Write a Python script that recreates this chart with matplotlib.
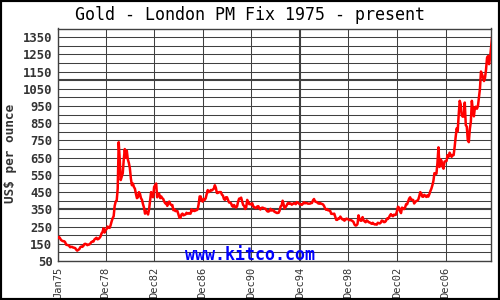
import matplotlib
matplotlib.use("Agg")
import matplotlib.pyplot as plt
from matplotlib.patches import Rectangle
import numpy as np

# Monthly gold price (US$/oz), Jan 1975 onward
years = list(range(1975, 2011))
prices_by_year = [
    [185, 190, 182, 172, 168, 165, 165, 160, 145, 143, 142, 138],   # 1975
    [130, 132, 132, 128, 127, 125, 116, 110, 115, 118, 130, 134],   # 1976
    [132, 137, 148, 150, 147, 142, 145, 146, 152, 160, 163, 163],   # 1977
    [175, 180, 185, 176, 178, 184, 192, 210, 218, 240, 215, 230],   # 1978
    [235, 250, 245, 242, 258, 280, 298, 310, 370, 395, 400, 470],   # 1979
    [740, 640, 520, 540, 560, 640, 700, 650, 690, 640, 620, 590],   # 1980
    [530, 490, 500, 480, 470, 440, 415, 420, 450, 440, 415, 405],   # 1981
    [380, 360, 325, 340, 330, 320, 350, 400, 450, 430, 420, 480],   # 1982
    [490, 500, 420, 440, 440, 415, 425, 415, 410, 395, 385, 385],   # 1983
    [370, 390, 395, 380, 375, 375, 345, 350, 340, 340, 340, 320],   # 1984
    [302, 300, 320, 325, 315, 318, 320, 330, 325, 328, 325, 325],   # 1985
    [350, 340, 345, 340, 345, 345, 350, 380, 425, 425, 400, 395],   # 1986
    [410, 405, 415, 440, 462, 450, 455, 462, 460, 465, 470, 490],   # 1987
    [475, 445, 445, 450, 450, 450, 435, 430, 410, 405, 420, 420],   # 1988
    [405, 390, 390, 385, 370, 365, 375, 365, 360, 368, 395, 412],   # 1989
    [412, 418, 395, 375, 370, 352, 362, 405, 392, 380, 382, 378],   # 1990
    [385, 365, 363, 358, 357, 367, 368, 356, 349, 358, 360, 358],   # 1991
    [354, 354, 345, 338, 337, 341, 353, 343, 345, 344, 335, 334],   # 1992
    [329, 329, 330, 342, 367, 372, 400, 378, 355, 364, 373, 385],   # 1993
    [387, 382, 384, 377, 381, 386, 385, 380, 392, 389, 384, 379],   # 1994
    [379, 376, 382, 391, 385, 387, 386, 383, 383, 383, 386, 387],   # 1995
    [402, 410, 396, 393, 392, 385, 383, 387, 383, 381, 378, 369],   # 1996
    [355, 347, 352, 344, 344, 341, 324, 324, 323, 325, 306, 289],   # 1997
    [289, 297, 296, 308, 299, 292, 293, 284, 289, 296, 294, 291],   # 1998
    [287, 288, 286, 282, 277, 262, 256, 257, 265, 315, 293, 284],   # 1999
    [284, 305, 287, 280, 275, 286, 282, 275, 274, 270, 266, 272],   # 2000
    [266, 262, 263, 261, 272, 270, 268, 273, 285, 283, 276, 276],   # 2001
    [282, 296, 294, 302, 314, 322, 314, 310, 319, 317, 319, 340],   # 2002
    [365, 360, 340, 328, 360, 356, 351, 360, 380, 379, 395, 412],   # 2003
    [420, 405, 406, 404, 384, 392, 398, 400, 406, 425, 450, 442],   # 2004
    [424, 423, 434, 429, 422, 431, 424, 438, 456, 470, 490, 515],   # 2005
    [560, 555, 557, 620, 710, 596, 640, 632, 598, 586, 627, 629],   # 2006
    [631, 665, 655, 679, 667, 655, 665, 665, 713, 770, 820, 803],   # 2007
    [900, 980, 960, 895, 888, 889, 970, 839, 830, 750, 740, 816],   # 2008
    [858, 980, 925, 890, 940, 946, 934, 949, 1000, 1050, 1150, 1135],  # 2009
    [1118, 1095, 1114, 1160, 1230, 1240, 1193, 1230, 1290, 1350],   # 2010
]

x_tick_labels = ["Jan75", "Dec78", "Dec82", "Dec86", "Dec90",
                 "Dec94", "Dec98", "Dec02", "Dec06"]
x_tick_years = [1975, 1978, 1982, 1986, 1990, 1994, 1998, 2002, 2006]
x_tick_months = [0, 11, 11, 11, 11, 11, 11, 11, 11]
y_tick_values = [50, 150, 250, 350, 450, 550, 650, 750, 850, 950,
                 1050, 1150, 1250, 1350]

t, v = [], []
for yr, vals in zip(years, prices_by_year):
    for m, p in enumerate(vals):
        t.append(yr + m / 12.0)
        v.append(p)

fig = plt.figure(figsize=(5, 3), dpi=100)
fig.patch.set_facecolor("white")
ax = fig.add_axes([0.116, 0.13, 0.866, 0.775])

grid_c = "#404040"
# horizontal grid every 50
for yv in range(50, 1401, 50):
    lw = 2.0 if yv in (350, 1100) else 1.0
    ax.axhline(yv, color=grid_c, lw=lw * 0.75, zorder=1)
xt = [y + m / 12.0 for y, m in zip(x_tick_years, x_tick_months)]
for lab, xv in zip(x_tick_labels, xt):
    lw = 2.0 if lab == "Dec94" else 1.0
    ax.axvline(xv, color=grid_c, lw=lw * 0.75, zorder=1)

ax.plot(t, v, color="#ff0000", lw=1.8, zorder=3)

ax.set_xlim(1975.0, 2010.66)
ax.set_ylim(50, 1400)
ax.set_yticks(y_tick_values)
ax.set_yticklabels([str(y) for y in y_tick_values],
                   fontfamily="DejaVu Sans Mono", fontweight="bold",
                   fontsize=8.8, color="#333333")
ax.set_xticks(xt)
ax.set_xticklabels(x_tick_labels, rotation=90, fontfamily="DejaVu Sans Mono",
                   fontsize=7.5, color="#333333", va="top")
ax.tick_params(length=0, pad=4)
for s in ax.spines.values():
    s.set_color(grid_c)
    s.set_linewidth(1.0)

fig.text(0.5, 0.95, "Gold - London PM Fix 1975 - present",
         fontfamily="DejaVu Sans Mono", fontsize=12, color="black",
         ha="center", va="center")
fig.text(0.022, 0.49, "US$ per ounce", rotation=90,
         fontfamily="DejaVu Sans Mono", fontweight="bold", fontsize=9.2,
         color="#333333", ha="center", va="center")
fig.text(0.5, 0.15, "www.kitco.com", fontfamily="DejaVu Sans Mono",
         fontweight="bold", fontsize=12, color="#0000ff",
         ha="center", va="center", zorder=5)

fig.patches.append(Rectangle((0, 0), 1, 1, transform=fig.transFigure,
                             fill=False, edgecolor="black", lw=3))

fig.savefig("out.png", dpi=100, facecolor="white")
